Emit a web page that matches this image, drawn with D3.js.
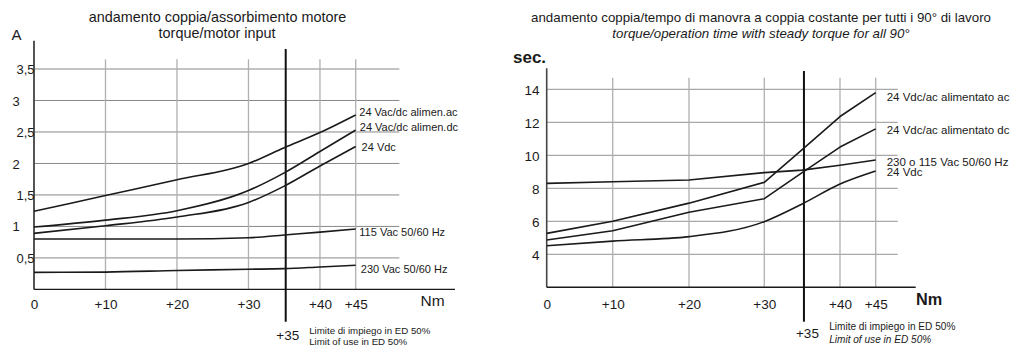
<!DOCTYPE html>
<html><head><meta charset="utf-8">
<script src="https://cdn.jsdelivr.net/npm/d3@7"></script>
<style>
body{margin:0;background:#fff}
svg{display:block;font-family:"Liberation Sans",Arial,Helvetica,sans-serif}
</style>
</head><body><svg id="c" width="1024" height="357"></svg>
<script>
// ---------- data ----------
const torque = [0, 10, 20, 30, 35, 40, 45];
const xTicks = [0, 10, 20, 30, 40, 45];
const limitTorque = 35;

// left chart: torque / motor input (A)
const leftYTicks = [0.5, 1, 1.5, 2, 2.5, 3, 3.5];
const leftYTickLabels = ["0,5", "1", "1,5", "2", "2,5", "3", "3,5"];
const ampAlimAc  = [1.24, 1.49, 1.74, 2.00, 2.25, 2.49, 2.77];
const ampAlimDc  = [0.99, 1.10, 1.25, 1.57, 1.85, 2.19, 2.53];
const amp24Vdc   = [0.89, 1.01, 1.15, 1.38, 1.64, 1.96, 2.27];
const amp115Vac  = [0.80, 0.80, 0.80, 0.82, 0.865, 0.91, 0.96];
const amp230Vac  = [0.27, 0.275, 0.30, 0.32, 0.33, 0.356, 0.383];
const leftSeriesNames = ["24 Vac/dc alimen.ac", "24 Vac/dc alimen.dc", "24 Vdc", "115 Vac 50/60 Hz", "230 Vac 50/60 Hz"];

// right chart: torque / operation time (sec.)
const rightYTicks = [4, 6, 8, 10, 12, 14];
const secAlimAc   = [5.27, 6.00, 7.10, 8.36, 10.35, 12.35, 13.80];
const secAlimDc   = [4.87, 5.43, 6.55, 7.37, 8.95, 10.50, 11.60];
const sec230o115  = [8.30, 8.40, 8.50, 8.95, 9.10, 9.40, 9.72];
const sec24Vdc    = [4.52, 4.80, 5.07, 5.98, 7.05, 8.26, 9.05];
const rightSeriesNames = ["24 Vdc/ac alimentato ac", "24 Vdc/ac alimentato dc", "230 o 115 Vac 50/60 Hz", "24 Vdc"];

const leftTitle = ["andamento coppia/assorbimento motore", "torque/motor input"];
const rightTitle = ["andamento coppia/tempo di manovra a coppia costante per tutti i 90° di lavoro", "torque/operation time with steady torque for all 90°"];
const limitText = ["Limite di impiego in ED 50%", "Limit of use in ED 50%"];

// ---------- drawing ----------
const svg = d3.select("#c");
const ink = "#1a1a1a";
const fmtX = d => d === 0 ? "0" : "+" + d;

function drawLines(g, x, y, seriesList, dx, dys, xOffs, fontSize) {
  seriesList.forEach((s, k) => {
    const line = d3.line().x((d, i) => x(torque[i])).y(d => y(d)).curve(s.curve);
    g.append("path").attr("d", line(s.values)).attr("fill", "none")
      .attr("stroke", ink).attr("stroke-width", 1.6).attr("stroke-linejoin", "round");
    g.append("text").attr("x", x(45) + dx + xOffs[k]).attr("y", y(s.values[s.values.length - 1]) + dys[k])
      .attr("dy", "0.35em").attr("font-size", fontSize).attr("fill", ink).text(s.name);
  });
}

// ===== LEFT =====
{
  const x = d3.scaleLinear().domain([0, 45]).range([34, 355.7]);
  const y = d3.scaleLinear().domain([0, 3.5]).range([289.4, 69]);
  const g = svg.append("g");

  g.append("g").selectAll("line").data(leftYTicks).join("line")
    .attr("x1", x(0)).attr("x2", 399.3).attr("y1", d => y(d)).attr("y2", d => y(d))
    .attr("stroke", "#7a7a7a").attr("stroke-width", 0.9);
  g.append("g").selectAll("line").data(xTicks.slice(1)).join("line")
    .attr("x1", d => x(d)).attr("x2", d => x(d)).attr("y1", 59.3).attr("y2", y(0))
    .attr("stroke", "#b0b0b0").attr("stroke-width", 1.3);
  g.append("line").attr("x1", x(0)).attr("x2", x(0)).attr("y1", 40.7).attr("y2", y(0))
    .attr("stroke", "#555").attr("stroke-width", 2);
  g.append("line").attr("x1", x(0)).attr("x2", 455).attr("y1", y(0)).attr("y2", y(0))
    .attr("stroke", ink).attr("stroke-width", 1.4);
  g.append("line").attr("x1", x(limitTorque) + 1.5).attr("x2", x(limitTorque) + 1.5).attr("y1", 49).attr("y2", 321.7)
    .attr("stroke", "#111").attr("stroke-width", 2);

  g.append("g").attr("transform", "translate(0,304)")
    .call(d3.axisBottom(x).tickValues(xTicks).tickFormat(fmtX).tickSize(0))
    .call(a => a.select(".domain").remove())
    .call(a => a.selectAll("text").attr("y", 0).attr("dy", "0.35em").attr("font-size", 13.5)
      .attr("font-family", null).attr("fill", ink));
  g.append("g")
    .call(d3.axisLeft(y).tickValues(leftYTicks).tickFormat((d, i) => leftYTickLabels[i]).tickSize(0))
    .call(a => a.select(".domain").remove())
    .call(a => a.selectAll("text").attr("text-anchor", "start")
      .attr("x", d => Number.isInteger(d) ? 12.5 : 16.5).attr("dy", "0.35em")
      .attr("font-size", 13).attr("font-family", null).attr("fill", ink));

  g.append("text").attr("x", 11.5).attr("y", 35).attr("dy", "0.35em").attr("font-size", 15).attr("fill", ink).text("A");
  g.append("text").attr("x", 420.5).attr("y", 300.7).attr("dy", "0.35em").attr("font-size", 15.5).attr("fill", ink).text("Nm");

  g.append("text").attr("x", 217.5).attr("y", 17).attr("dy", "0.35em").attr("text-anchor", "middle")
    .attr("font-size", 14.4).attr("fill", ink).text(leftTitle[0]);
  g.append("text").attr("x", 217).attr("y", 33).attr("dy", "0.35em").attr("text-anchor", "middle")
    .attr("font-size", 14.4).attr("fill", ink).text(leftTitle[1]);

  g.append("text").attr("x", x(limitTorque) + 3.5).attr("y", 335).attr("dy", "0.35em").attr("text-anchor", "middle")
    .attr("font-size", 13.5).attr("fill", ink).text("+35");
  g.append("text").attr("x", x(limitTorque) + 25).attr("y", 330.3).attr("dy", "0.35em")
    .attr("font-size", 9.7).attr("fill", ink).text(limitText[0]);
  g.append("text").attr("x", x(limitTorque) + 25).attr("y", 342).attr("dy", "0.35em")
    .attr("font-size", 9.7).attr("fill", ink).text(limitText[1]);

  const series = [ampAlimAc, ampAlimDc, amp24Vdc, amp115Vac, amp230Vac]
    .map((v, i) => ({ name: leftSeriesNames[i], values: v, curve: d3.curveMonotoneX }));
  drawLines(g, x, y, series, 3.6, [-2.7, -3.3, 0.6, 3.7, 4], [0, 0.5, 2.3, 0, 1.5], 11);
}

// ===== RIGHT =====
{
  const x = d3.scaleLinear().domain([0, 10, 20, 30, 40, 45]).range([546.7, 612.7, 689, 764.3, 840, 875.7]);
  const y = d3.scaleLinear().domain([2, 14]).range([287.3, 89.3]);
  const g = svg.append("g");

  g.append("g").selectAll("line").data(rightYTicks).join("line")
    .attr("x1", x(0)).attr("x2", 897.7).attr("y1", d => y(d)).attr("y2", d => y(d))
    .attr("stroke", "#a8a8a8").attr("stroke-width", 1.2);
  g.append("g").selectAll("line").data(xTicks.slice(1)).join("line")
    .attr("x1", d => x(d)).attr("x2", d => x(d)).attr("y1", 77.7).attr("y2", y(2))
    .attr("stroke", "#b0b0b0").attr("stroke-width", 1.3);
  g.append("line").attr("x1", x(0)).attr("x2", x(0)).attr("y1", 68.3).attr("y2", y(2))
    .attr("stroke", "#444").attr("stroke-width", 1.6);
  g.append("line").attr("x1", x(0)).attr("x2", 915.7).attr("y1", y(2)).attr("y2", y(2))
    .attr("stroke", ink).attr("stroke-width", 1.4);
  g.append("line").attr("x1", x(limitTorque) + 1.8).attr("x2", x(limitTorque) + 1.8).attr("y1", 71).attr("y2", 321.7)
    .attr("stroke", "#111").attr("stroke-width", 2);

  g.append("g").attr("transform", "translate(0,304)")
    .call(d3.axisBottom(x).tickValues(xTicks).tickFormat(fmtX).tickSize(0))
    .call(a => a.select(".domain").remove())
    .call(a => a.selectAll("text").attr("y", 0).attr("dy", "0.35em").attr("font-size", 13.5)
      .attr("font-family", null).attr("fill", ink));
  g.append("g").attr("transform", "translate(539.5,0)")
    .call(d3.axisLeft(y).tickValues(rightYTicks).tickSize(0))
    .call(a => a.select(".domain").remove())
    .call(a => a.selectAll("text").attr("text-anchor", "end").attr("x", 0).attr("dy", "0.35em")
      .attr("font-size", 13.5).attr("font-family", null).attr("fill", ink));

  g.append("text").attr("x", 513).attr("y", 57).attr("dy", "0.35em").attr("font-size", 17)
    .attr("font-weight", "bold").attr("fill", ink).text("sec.");
  g.append("text").attr("x", 916).attr("y", 299.3).attr("dy", "0.35em").attr("font-size", 16.3)
    .attr("font-weight", "bold").attr("fill", ink).text("Nm");

  g.append("text").attr("x", 761).attr("y", 17).attr("dy", "0.35em").attr("text-anchor", "middle")
    .attr("font-size", 13.3).attr("fill", ink).text(rightTitle[0]);
  g.append("text").attr("x", 761).attr("y", 33).attr("dy", "0.35em").attr("text-anchor", "middle")
    .attr("font-size", 13.3).attr("font-style", "italic").attr("fill", ink).text(rightTitle[1]);

  g.append("text").attr("x", x(limitTorque) + 5.3).attr("y", 333.3).attr("dy", "0.35em").attr("text-anchor", "middle")
    .attr("font-size", 13.5).attr("fill", ink).text("+35");
  g.append("text").attr("x", x(limitTorque) + 27).attr("y", 326.7).attr("dy", "0.35em")
    .attr("font-size", 10.1).attr("fill", ink).text(limitText[0]);
  g.append("text").attr("x", x(limitTorque) + 27).attr("y", 339.3).attr("dy", "0.35em")
    .attr("font-size", 10.1).attr("font-style", "italic").attr("fill", ink).text(limitText[1]);

  const rightCurves = [d3.curveLinear, d3.curveLinear, d3.curveLinear, d3.curveMonotoneX];
  const series = [secAlimAc, secAlimDc, sec230o115, sec24Vdc]
    .map((v, i) => ({ name: rightSeriesNames[i], values: v, curve: rightCurves[i] }));
  drawLines(g, x, y, series, 11, [4, 1, 1.7, 1.3], [0, 0, 0, 0], 11.5);
}
</script>
</body></html>
